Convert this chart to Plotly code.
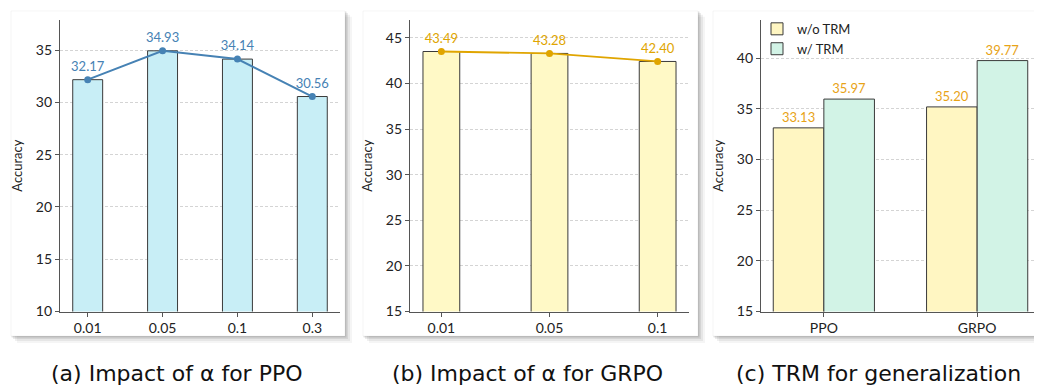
import plotly.graph_objects as go

# ---- data ----
ppo_alpha = ["0.01", "0.05", "0.1", "0.3"]
ppo_acc = [32.17, 34.93, 34.14, 30.56]

grpo_alpha = ["0.01", "0.05", "0.1"]
grpo_acc = [43.49, 43.28, 42.40]

methods = ["PPO", "GRPO"]
wo_trm = [33.13, 35.20]
w_trm = [35.97, 39.77]

captions = ["(a) Impact of α for PPO", "(b) Impact of α for GRPO", "(c) TRM for generalization"]

W, H = 1042, 385
FONT = "Lato, 'Open Sans', sans-serif"
CAP_FONT = "'DejaVu Sans', sans-serif"

def px_x(p):
    return p / W

def px_y(p):
    return 1 - p / H

fig = go.Figure()

# panel 1
x1 = list(range(len(ppo_alpha)))
fig.add_trace(go.Bar(x=x1, y=ppo_acc, width=0.4, marker=dict(color="#C8EEF6", line=dict(color="#3a3a3a", width=1)),
                     xaxis="x", yaxis="y", showlegend=False))
fig.add_trace(go.Scatter(x=x1, y=ppo_acc, mode="lines+markers+text", text=[f"{v:.2f}" for v in ppo_acc],
                         textposition="top center", textfont=dict(color="#4682B4", size=13, family=FONT),
                         line=dict(color="#4682B4", width=2), marker=dict(size=7, color="#4682B4"),
                         xaxis="x", yaxis="y", showlegend=False, cliponaxis=False))

# panel 2
x2 = list(range(len(grpo_alpha)))
fig.add_trace(go.Bar(x=x2, y=grpo_acc, width=0.34, marker=dict(color="#FFF9C6", line=dict(color="#3a3a3a", width=1)),
                     xaxis="x2", yaxis="y2", showlegend=False))
fig.add_trace(go.Scatter(x=x2, y=grpo_acc, mode="lines+markers+text", text=[f"{v:.2f}" for v in grpo_acc],
                         textposition="top center", textfont=dict(color="#E0A500", size=13, family=FONT),
                         line=dict(color="#E0A500", width=1.8), marker=dict(size=7, color="#E0A500"),
                         xaxis="x2", yaxis="y2", showlegend=False, cliponaxis=False))

# panel 3
x3 = list(range(len(methods)))
fig.add_trace(go.Bar(x=x3, y=wo_trm, width=0.33, offset=-0.33, name="w/o TRM",
                     marker=dict(color="#FFF6C2", line=dict(color="#3a3a3a", width=1)),
                     text=[f"{v:.2f}" for v in wo_trm], textposition="outside",
                     textfont=dict(color="#E8A317", size=13, family=FONT), cliponaxis=False,
                     xaxis="x3", yaxis="y3"))
fig.add_trace(go.Bar(x=x3, y=w_trm, width=0.33, offset=0, name="w/ TRM",
                     marker=dict(color="#D2F3E6", line=dict(color="#3a3a3a", width=1)),
                     text=[f"{v:.2f}" for v in w_trm], textposition="outside",
                     textfont=dict(color="#E8A317", size=13, family=FONT), cliponaxis=False,
                     xaxis="x3", yaxis="y3"))

axis_common = dict(showline=True, linecolor="#555", linewidth=1.2, ticks="outside", ticklen=4,
                   tickcolor="#555", tickfont=dict(size=14, color="#222", family=FONT), zeroline=False)
yaxis_common = dict(axis_common, showgrid=True, gridcolor="#d4d4d4", griddash="3px,2px", gridwidth=0.8,
                    title=dict(text="Accuracy", font=dict(size=13, color="#222", family=FONT), standoff=10),
                    dtick=5)

yb, yt = px_y(310), px_y(12)
fig.update_layout(
    width=W, height=H, margin=dict(l=0, r=0, t=0, b=0),
    paper_bgcolor="white", plot_bgcolor="rgba(0,0,0,0)",
    font=dict(family=FONT),
    xaxis=dict(axis_common, domain=[px_x(52), px_x(332)], range=[-0.37, 3.37],
               tickvals=x1, ticktext=ppo_alpha, showgrid=False, anchor="y"),
    yaxis=dict(yaxis_common, domain=[yb, yt], range=[10, 37.9], anchor="x"),
    xaxis2=dict(axis_common, domain=[px_x(402), px_x(681)], range=[-0.29, 2.29],
                tickvals=x2, ticktext=grpo_alpha, showgrid=False, anchor="y2"),
    yaxis2=dict(yaxis_common, domain=[yb, yt], range=[15, 46.97], anchor="x2"),
    xaxis3=dict(axis_common, domain=[px_x(753), px_x(1032)], range=[-0.41, 1.41],
                tickvals=x3, ticktext=methods, showgrid=False, anchor="y3"),
    yaxis3=dict(yaxis_common, domain=[yb, yt], range=[15, 43.8], anchor="x3"),
    legend=dict(x=px_x(749), y=px_y(6), xanchor="left", yanchor="top", bgcolor="rgba(0,0,0,0)",
                font=dict(size=13, color="#222", family=FONT), tracegroupgap=4),
    showlegend=True,
)

# card backgrounds with soft shadows
cards = [(3, 337), (355, 690), (705, 1036)]
shapes = []
for (l, r) in cards:
    t, b = 3, 335
    for off, op in [(7, 0.04), (5, 0.06), (3, 0.08), (1.5, 0.10)]:
        shapes.append(dict(type="rect", xref="paper", yref="paper", layer="below",
                           x0=px_x(l + off - 1), x1=px_x(r + off), y0=px_y(b + off), y1=px_y(t + off - 1),
                           fillcolor=f"rgba(0,0,0,{op})", line=dict(width=0)))
    shapes.append(dict(type="rect", xref="paper", yref="paper", layer="below",
                       x0=px_x(l), x1=px_x(r), y0=px_y(b), y1=px_y(t),
                       fillcolor="white", line=dict(color="rgba(0,0,0,0.08)", width=0.5)))
fig.update_layout(shapes=shapes)

cap_x = [169, 519, 870]
for cx, txt in zip(cap_x, captions):
    fig.add_annotation(x=px_x(cx), y=px_y(373), xref="paper", yref="paper", text=txt, showarrow=False,
                       xanchor="center", yanchor="middle", font=dict(size=22, color="#111", family=CAP_FONT))

fig.write_html("out.html")
